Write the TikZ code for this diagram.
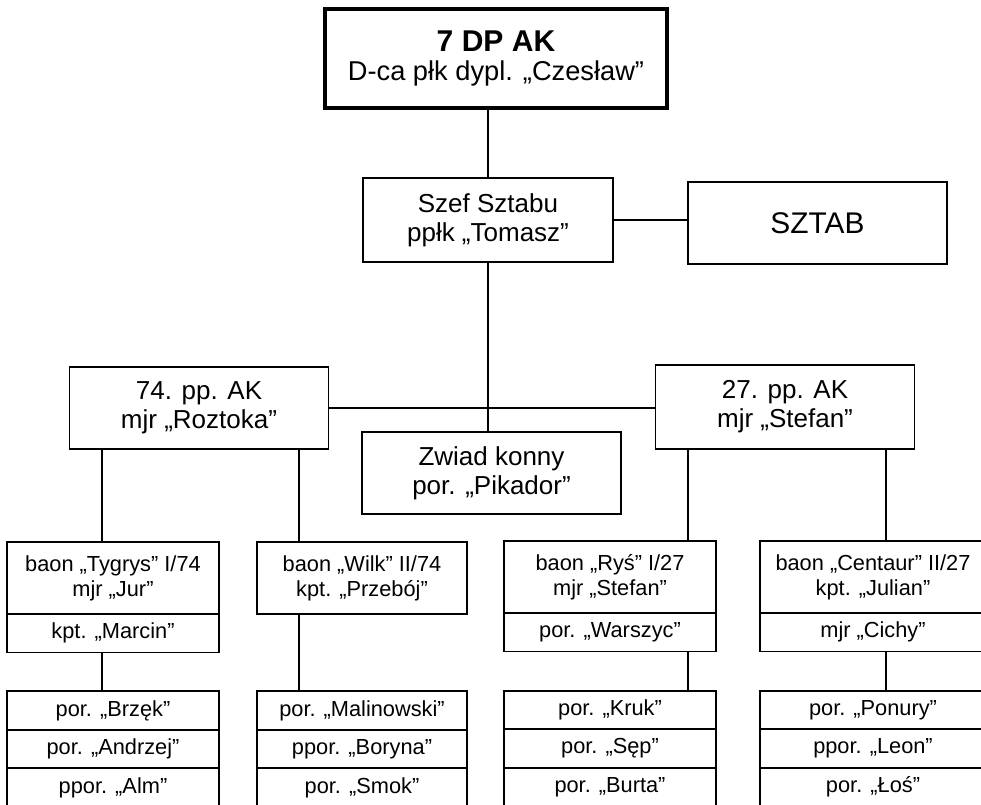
\documentclass[tikz,border=0pt]{standalone}
\usepackage{fontspec}
\setmainfont{Liberation Sans}
\usetikzlibrary{calc,positioning}
\tikzset{
    unit/.style={
        draw,
        line width=1pt,
        outer sep=0pt,
        align=center,
        minimum width=5.18cm,
        minimum height=1.64cm,
        font=\fontsize{14.8}{16.5}\selectfont
    },
    command/.style={
        unit,
        line width=2.4pt,
        minimum width=6.84cm,
        minimum height=1.98cm,
        font=\fontsize{15.5}{16}\selectfont
    },
    cell/.style={
        draw,
        line width=1pt,
        outer sep=0pt,
        align=center,
        minimum width=4.24cm,
        minimum height=0.77cm,
        font=\fontsize{12.4}{14.2}\selectfont
    },
    baon/.style={
        cell,
        minimum height=1.44cm
    },
    link/.style={
        line width=1pt
    }
}

\begin{document}
\begin{tikzpicture}[x=0.02cm,y=-0.02cm]

    \fill[white] (0,0) rectangle (981,805);
    \useasboundingbox (0,0) rectangle (981,805);
    \clip (0,0) rectangle (981,805);

    %% Dowodztwo
    \node (top) [command] at (496,58.5) {{\fontsize{17.1}{19}\selectfont\bfseries 7 DP AK}\\[1pt]D-ca płk dypl. „Czesław”};
    \node (szef) [unit,minimum width=5cm,minimum height=1.68cm] at (488,220) {Szef Sztabu\\ppłk „Tomasz”};
    \node (sztab) [unit,font=\fontsize{17}{19}\selectfont] at (817.5,223) {SZTAB};

    \draw[link] (szef.north) -- (szef.north |- top.south);
    \draw[link] (szef.east) -- (szef.east -| sztab.west);

    %% Pulki
    \node (pp74) [unit] at (199,408) {74. pp. AK\\mjr „Roztoka”};
    \node (pp27) [unit,minimum height=1.68cm] at (785,407) {27. pp. AK\\mjr „Stefan”};
    \node (zwiad) [unit] at (491.5,473) {Zwiad konny\\por. „Pikador”};

    \draw[link] (szef.south) -- (szef.south |- zwiad.north);
    \draw[link] (pp74.east) -- (pp74.east -| pp27.west);

    %% Bataliony 74. pp.
    \node (tyg) [baon] at (113,578) {baon „Tygrys” I/74\\mjr „Jur”};
    \node (tygk) [cell,below=0pt of tyg] {kpt. „Marcin”};
    \node (wilk) [baon,minimum width=4.2cm] at (362,578) {baon „Wilk” II/74\\kpt. „Przebój”};

    \draw[link] ([xshift=-0.22cm]tyg.north) -- ([xshift=-0.22cm]tyg.north |- pp74.south);
    \draw[link] ([xshift=-1.26cm]wilk.north) -- ([xshift=-1.26cm]wilk.north |- pp74.south);

    %% Bataliony 27. pp.
    \node (rys) [baon] at (610,577) {baon „Ryś” I/27\\mjr „Stefan”};
    \node (rysk) [cell,below=0pt of rys] {por. „Warszyc”};
    \node (cen) [baon,minimum width=4.52cm] at (873,577) {baon „Centaur” II/27\\kpt. „Julian”};
    \node (cenk) [cell,minimum width=4.52cm,below=0pt of cen] {mjr „Cichy”};

    \draw[link] ([xshift=1.56cm]rys.north) -- ([xshift=1.56cm]rys.north |- pp27.south);
    \draw[link] ([xshift=0.26cm]cen.north) -- ([xshift=0.26cm]cen.north |- pp27.south);

    %% Kompanie
    \node (tyg1) [cell] at (113,710.5) {por. „Brzęk”};
    \node (tyg2) [cell,below=0pt of tyg1] {por. „Andrzej”};
    \node (tyg3) [cell,below=0pt of tyg2] {ppor. „Alm”};

    \node (wilk1) [cell,minimum width=4.2cm] at (362,710.5) {por. „Malinowski”};
    \node (wilk2) [cell,minimum width=4.2cm,below=0pt of wilk1] {ppor. „Boryna”};
    \node (wilk3) [cell,minimum width=4.2cm,below=0pt of wilk2] {por. „Smok”};

    \node (rys1) [cell] at (610,710) {por. „Kruk”};
    \node (rys2) [cell,below=0pt of rys1] {por. „Sęp”};
    \node (rys3) [cell,below=0pt of rys2] {por. „Burta”};

    \node (cen1) [cell,minimum width=4.52cm] at (873,710) {por. „Ponury”};
    \node (cen2) [cell,minimum width=4.52cm,below=0pt of cen1] {ppor. „Leon”};
    \node (cen3) [cell,minimum width=4.52cm,below=0pt of cen2] {por. „Łoś”};

    \draw[link] ([xshift=-0.22cm]tyg1.north) -- ([xshift=-0.22cm]tyg1.north |- tygk.south);
    \draw[link] ([xshift=-1.26cm]wilk1.north) -- ([xshift=-1.26cm]wilk1.north |- wilk.south);
    \draw[link] ([xshift=1.56cm]rys1.north) -- ([xshift=1.56cm]rys1.north |- rysk.south);
    \draw[link] ([xshift=0.26cm]cen1.north) -- ([xshift=0.26cm]cen1.north |- cenk.south);

\end{tikzpicture}
\end{document}
